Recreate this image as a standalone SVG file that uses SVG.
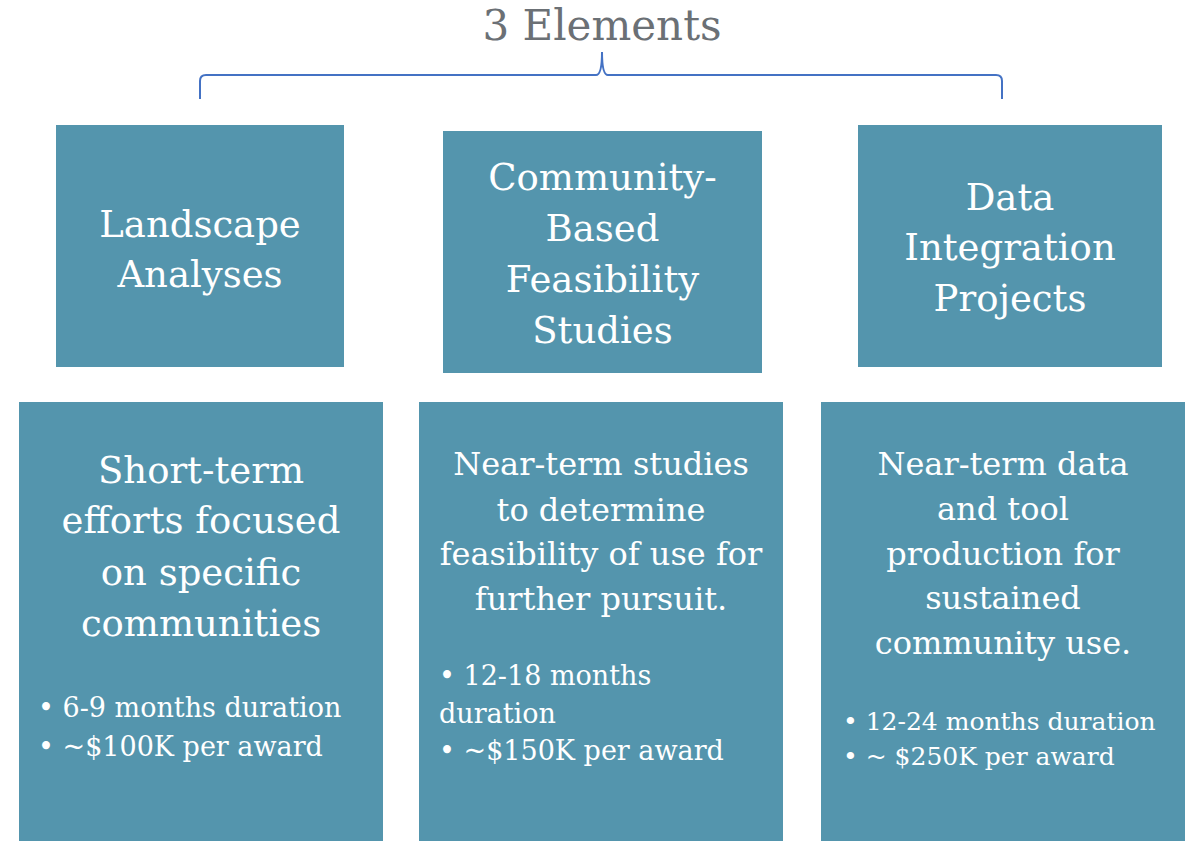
<svg xmlns="http://www.w3.org/2000/svg" width="1193" height="841" viewBox="0 0 1193 841">
<style>
.box{fill:#5495AD}
.t{font-family:"DejaVu Serif","Liberation Serif",serif;fill:#ffffff}
.h{font-size:37px;text-anchor:middle}
.d{font-size:32px;text-anchor:middle}
.b{font-size:27px}
.title{font-family:"DejaVu Serif","Liberation Serif",serif;font-size:42px;fill:#6B7075;text-anchor:middle}
</style>
<rect width="1193" height="841" fill="#ffffff"/>
<text class="title" x="602" y="40">3 Elements</text>
<g id="connectors">
<path d="M200,99 V81 Q200,75 206,75 H596 Q602,75 602,52 Q602,75 608,75 H996 Q1002,75 1002,81 V99" fill="none" stroke="#4472C4" stroke-width="2"/>
</g>
<g id="n1"><rect class="box" x="56" y="125" width="288" height="242"/>
<text class="t h" x="200"><tspan x="200" y="237">Landscape</tspan><tspan x="200" y="287">Analyses</tspan></text></g>
<g id="n2"><rect class="box" x="443" y="131" width="319" height="242"/>
<text class="t h"><tspan x="602.5" y="190">Community-</tspan><tspan x="602.5" y="241">Based</tspan><tspan x="602.5" y="292">Feasibility</tspan><tspan x="602.5" y="343">Studies</tspan></text></g>
<g id="n3"><rect class="box" x="858" y="125" width="304" height="242"/>
<text class="t h"><tspan x="1010" y="210">Data</tspan><tspan x="1010" y="260">Integration</tspan><tspan x="1010" y="311">Projects</tspan></text></g>
<g id="n4"><rect class="box" x="19" y="402" width="364" height="439"/>
<text class="t h"><tspan x="201" y="483">Short-term</tspan><tspan x="201" y="533">efforts focused</tspan><tspan x="201" y="585">on specific</tspan><tspan x="201" y="636">communities</tspan></text>
<text class="t b"><tspan x="38" y="717">• 6-9 months duration</tspan><tspan x="38" y="756">• ~$100K per award</tspan></text></g>
<g id="n5"><rect class="box" x="419" y="402" width="364" height="439"/>
<text class="t d"><tspan x="601" y="475">Near-term studies</tspan><tspan x="601" y="521">to determine</tspan><tspan x="601" y="565">feasibility of use for</tspan><tspan x="601" y="610">further pursuit.</tspan></text>
<text class="t b"><tspan x="439" y="685">• 12-18 months</tspan><tspan x="439" y="723">duration</tspan><tspan x="439" y="760">• ~$150K per award</tspan></text></g>
<g id="n6"><rect class="box" x="821" y="402" width="364" height="439"/>
<text class="t d"><tspan x="1003" y="475">Near-term data</tspan><tspan x="1003" y="520">and tool</tspan><tspan x="1003" y="565">production for</tspan><tspan x="1003" y="609">sustained</tspan><tspan x="1003" y="654">community use.</tspan></text>
<text class="t b" style="font-size:25px"><tspan x="843" y="730">• 12-24 months duration</tspan><tspan x="843" y="765">• ~ $250K per award</tspan></text></g>
</svg>
